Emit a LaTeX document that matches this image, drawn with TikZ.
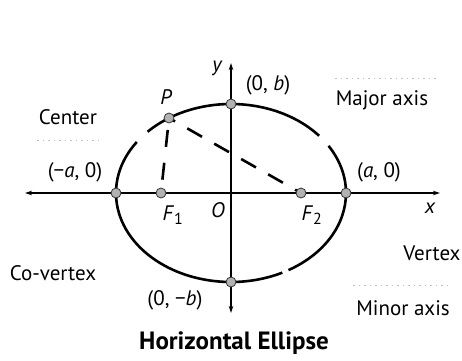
\documentclass[tikz,border=0pt]{standalone}
\usepackage{fontspec}
\setmainfont{PT Sans}
\usetikzlibrary{arrows.meta}
\begin{document}
\begin{tikzpicture}[x=1pt,y=1pt,
  lbl/.style={inner sep=0pt,font=\fontsize{21}{24}\selectfont},
  var/.style={inner sep=0pt,font=\fontsize{21}{24}\selectfont\itshape},
  pt/.style={circle,draw=black!80,line width=0.8pt,fill=gray!60,minimum size=10pt,inner sep=0pt},
  axis/.style={line width=1.4pt,{Stealth[length=7pt,width=4.5pt]}-{Stealth[length=7pt,width=4.5pt]}},
  curve/.style={line width=2.6pt},
  dshA/.style={line width=2.6pt,dash pattern=on 17pt off 14pt,dash phase=10pt},
  dshB/.style={line width=2.6pt,dash pattern=on 17pt off 16pt,dash phase=21pt},
  faint/.style={gray!50,line width=0.6pt,dash pattern=on 1.5pt off 4pt}]
\useasboundingbox (0,0) rectangle (462,360);
% reference coordinates
\coordinate (O) at (231,167);
\coordinate (xl) at (25,167);
\coordinate (xr) at (440,167);
\coordinate (yt) at (231,297);
\coordinate (yb) at (231,47);
% ellipse (drawn with the same gaps as the reference)
\draw[curve] (O) ++(40:115pt and 89pt) arc[start angle=40,end angle=136.5,x radius=115pt,y radius=89pt];
\draw[curve] (O) ++(145:115pt and 89pt) arc[start angle=145,end angle=296.5,x radius=115pt,y radius=89pt];
\draw[curve] (O) ++(300:115pt and 89pt) arc[start angle=300,end angle=392,x radius=115pt,y radius=89pt];
% axes
\draw[axis] (xl) -- (xr);
\draw[axis] (yb) -- (yt);
% points
\node[pt] (V1) at (116,167) {};
\node[pt] (V2) at (346,167) {};
\node[pt] (B1) at (231,256) {};
\node[pt] (B2) at (231,78) {};
\coordinate (F1) at (161,167);
\coordinate (F2) at (301,167);
\coordinate (P) at (169,242);
% focal distances
\draw[dshA] (P) -- (F2);
\draw[dshB] (P) -- (F1);
\node[pt] (F1p) at (F1) {};
\node[pt] (F2p) at (F2) {};
\node[pt] (Pp) at (P) {};
% labels
\node[var] (ly) at (217,292) {y};
\node[lbl] (l0b) at (268,275) {(0, \textit{b})};
\node[lbl] (lmaj) at (382,260) {Major axis};
\node[lbl] (lcen) at (68,243) {Center};
\node[var] (lP) at (166,263) {P};
\node[lbl] (lma) at (75,188) {(−\textit{a}, 0)};
\node[lbl] (la) at (379,188) {(\textit{a}, 0)};
\node[var] (lx) at (430,152) {x};
\node[lbl] (lF1) at (173,145) {\textit{F}\textsubscript{\fontsize{16}{16}\selectfont 1}};
\node[var] (lO) at (218,150) {O};
\node[lbl] (lF2) at (312,145) {\textit{F}\textsubscript{\fontsize{16}{16}\selectfont 2}};
\node[lbl] (lver) at (432,107) {Vertex};
\node[lbl] (lcov) at (53,87) {Co-vertex};
\node[lbl] (l0mb) at (175,60) {(0, −\textit{b})};
\node[lbl] (lmin) at (403,52) {Minor axis};
\node[inner sep=0pt,font=\fontsize{25}{28}\selectfont\bfseries] (title) at (234,17) {Horizontal Ellipse};
% faint guide marks
\draw[faint] (37,220) -- (100,220);
\draw[faint] (335,282) -- (437,282);
\draw[faint] (353,75) -- (447,75);
\end{tikzpicture}
\end{document}
